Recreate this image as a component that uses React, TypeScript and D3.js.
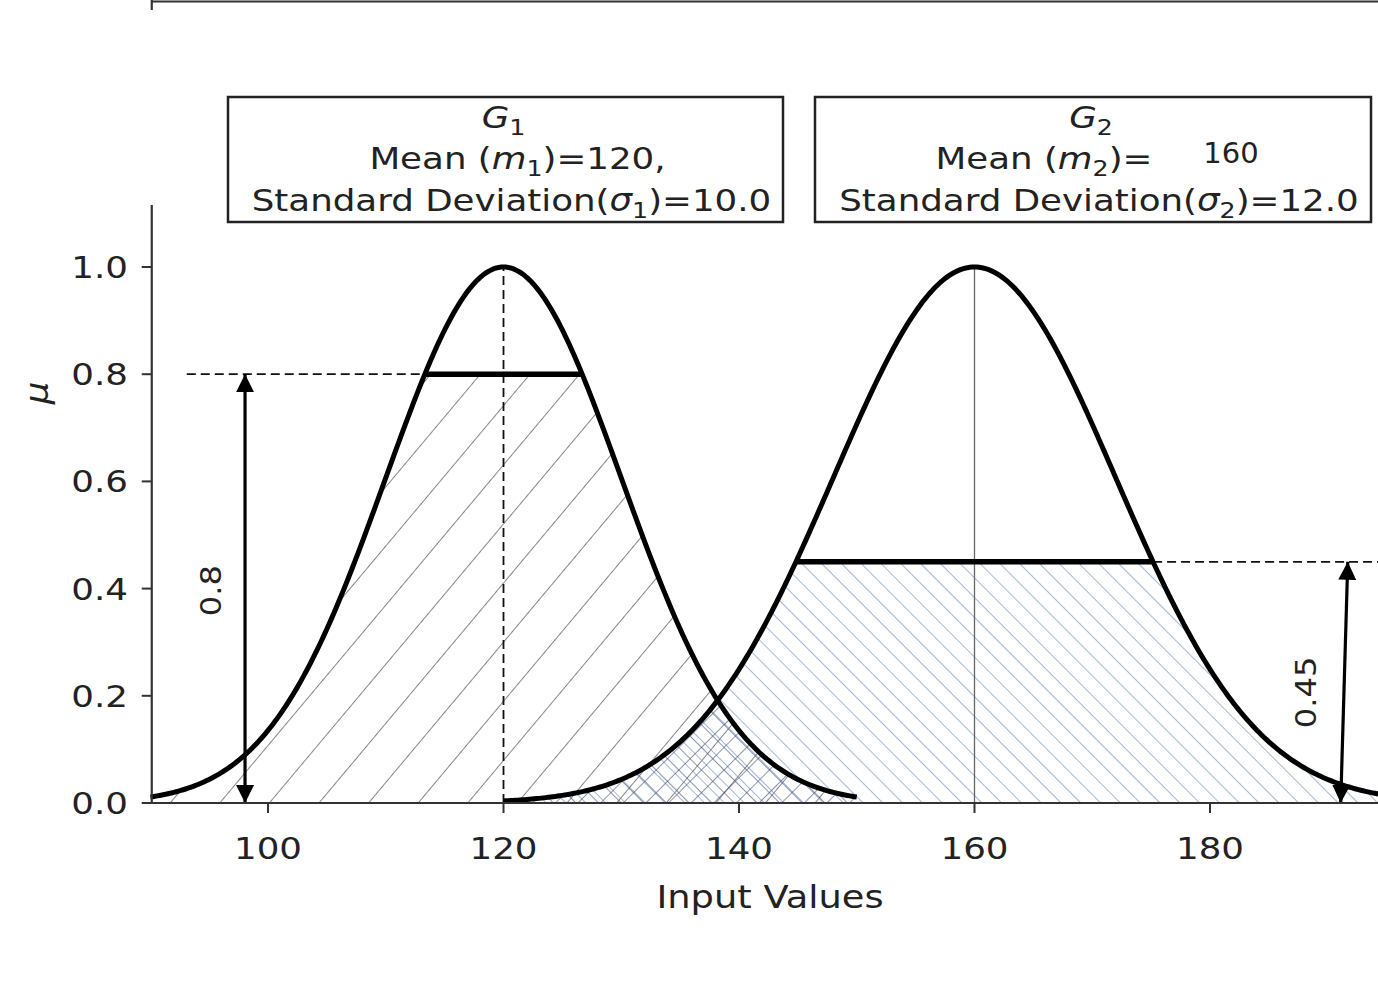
import React from "react";
import * as d3 from "d3";

const W = 1378;
const H = 984;

// membership functions, as labelled in the boxes
const names = ["G", "G"];
const subs = ["1", "2"];
const means = [120, 160];
const sigmas = [10.0, 12.0];
const spans = [
  [90, 150],
  [120, 200],
];
const cuts = [0.8, 0.45];
const cutLabels = ["0.8", "0.45"];

const xTicks = [100, 120, 140, 160, 180];
const yTicks = [0, 0.2, 0.4, 0.6, 0.8, 1.0];

// annotation anchors
const arrowX = [
  [98.05, 98.05],
  [191.1, 191.7],
];
const dashLeftX = 93.1;

const FONT = "DejaVu Sans, Liberation Sans, sans-serif";
const SX = 1.15; // the source picture is a little stretched horizontally

const x = d3.scaleLinear().domain([100, 180]).range([268, 1210]);
const y = d3.scaleLinear().domain([0, 1]).range([803, 267]);

const gauss = (v: number, m: number, s: number) =>
  Math.exp(-((v - m) ** 2) / (2 * s * s));

const halfWidth = (cut: number, s: number) => s * Math.sqrt(2 * Math.log(1 / cut));

function Txt({ tx, ty, size, anchor = "middle", rotate = 0, children, style }: any) {
  return (
    <text
      transform={`translate(${tx},${ty}) rotate(${rotate}) scale(${SX},1)`}
      fontSize={size}
      fontFamily={FONT}
      textAnchor={anchor}
      fill="#222"
      style={style}
    >
      {children}
    </text>
  );
}

export default function App() {
  const x0 = x(90);
  const spineX = x0 + 1.5;

  const line = d3
    .line<[number, number]>()
    .x((d) => x(d[0]))
    .y((d) => y(d[1]));
  const area = d3
    .area<[number, number]>()
    .x((d) => x(d[0]))
    .y0(y(0))
    .y1((d) => y(d[1]));

  const samples = (lo: number, hi: number) => d3.range(lo, hi + 0.001, 0.2);

  const curves = means.map((m, i) =>
    samples(spans[i][0], spans[i][1]).map((v) => [v, gauss(v, m, sigmas[i])] as [number, number])
  );
  const cutAreas = means.map((m, i) =>
    samples(spans[i][0], spans[i][1]).map(
      (v) => [v, Math.min(cuts[i], gauss(v, m, sigmas[i]))] as [number, number]
    )
  );
  const overlap = samples(spans[1][0], spans[0][1]).map(
    (v) =>
      [v, Math.min(gauss(v, means[0], sigmas[0]), gauss(v, means[1], sigmas[1]))] as [number, number]
  );

  const cutEnds = means.map((m, i) => {
    const h = halfWidth(cuts[i], sigmas[i]);
    return [m - h, m + h];
  });

  const boxes = [
    { x0: 228, x1: 783 },
    { x0: 815, x1: 1371 },
  ];

  return (
    <svg
      width={W}
      height={H}
      viewBox={`0 0 ${W} ${H}`}
      style={{ position: "absolute", left: 0, top: 0, background: "#fff" }}
    >
      <defs>
        <pattern id="hatchG1" patternUnits="userSpaceOnUse" width={38} height={20} patternTransform="rotate(40)">
          <line x1={0} y1={0} x2={0} y2={20} stroke="#444" strokeWidth={1.3} />
        </pattern>
        <pattern id="hatchG2" patternUnits="userSpaceOnUse" width={14} height={20} patternTransform="rotate(-45)">
          <line x1={0} y1={0} x2={0} y2={20} stroke="#6a86b8" strokeWidth={1.2} />
        </pattern>
        <pattern id="hatchX" patternUnits="userSpaceOnUse" width={16} height={16} patternTransform="rotate(45)">
          <line x1={0} y1={0} x2={0} y2={16} stroke="#2e3d6b" strokeWidth={1.1} />
          <line x1={0} y1={0} x2={16} y2={0} stroke="#2e3d6b" strokeWidth={1.1} />
        </pattern>
        <marker id="head" viewBox="0 0 10 10" refX={10} refY={5} markerWidth={18} markerHeight={20} markerUnits="userSpaceOnUse" orient="auto-start-reverse">
          <path d="M0,0 L10,5 L0,10 z" fill="#000" />
        </marker>
        <clipPath id="plot">
          <rect x={x0} y={0} width={W - x0} height={y(0)} />
        </clipPath>
      </defs>

      <g clipPath="url(#plot)">
        {/* hatched areas under the cut levels */}
        <path d={area(cutAreas[0]) ?? ""} fill="url(#hatchG1)" />
        <path d={area(cutAreas[1]) ?? ""} fill="url(#hatchG2)" />
        <path d={area(overlap) ?? ""} fill="url(#hatchX)" />

        {/* reference lines */}
        <line x1={x(means[0])} x2={x(means[0])} y1={y(0)} y2={y(1)} stroke="#111" strokeWidth={1.8} strokeDasharray="9,5" />
        <line x1={x(means[1])} x2={x(means[1])} y1={y(0)} y2={y(1)} stroke="#666" strokeWidth={1.3} />
        <line x1={x(dashLeftX)} x2={x(cutEnds[0][0])} y1={y(cuts[0])} y2={y(cuts[0])} stroke="#111" strokeWidth={1.8} strokeDasharray="9,5" />
        <line x1={x(cutEnds[1][1])} x2={W} y1={y(cuts[1])} y2={y(cuts[1])} stroke="#111" strokeWidth={1.8} strokeDasharray="9,5" />

        {/* cut levels */}
        {cutEnds.map((e, i) => (
          <line key={i} x1={x(e[0])} x2={x(e[1])} y1={y(cuts[i])} y2={y(cuts[i])} stroke="#000" strokeWidth={5.5} />
        ))}

        {/* membership curves */}
        {curves.map((c, i) => (
          <path key={i} d={line(c) ?? ""} fill="none" stroke="#000" strokeWidth={5} />
        ))}

        {/* arrows */}
        {arrowX.map((ax, i) => (
          <line
            key={i}
            x1={x(ax[0])}
            y1={y(0)}
            x2={x(ax[1])}
            y2={y(cuts[i])}
            stroke="#000"
            strokeWidth={3.2}
            markerStart="url(#head)"
            markerEnd="url(#head)"
          />
        ))}
      </g>

      {/* arrow labels */}
      <Txt tx={x(arrowX[0][0]) - 24} ty={y(cuts[0] / 2) + 2} size={28} rotate={-90}>
        {cutLabels[0]}
      </Txt>
      <Txt tx={x(arrowX[1][0]) - 25} ty={y(cuts[1] / 2) + 10} size={28} rotate={-90}>
        {cutLabels[1]}
      </Txt>

      {/* spines */}
      <line x1={spineX} x2={W} y1={1.5} y2={1.5} stroke="#333" strokeWidth={2.2} />
      <line x1={spineX} x2={spineX} y1={0} y2={10} stroke="#333" strokeWidth={2.2} />
      <line x1={spineX} x2={spineX} y1={205} y2={y(0) + 1} stroke="#333" strokeWidth={2.2} />
      <line x1={spineX} x2={W} y1={y(0)} y2={y(0)} stroke="#333" strokeWidth={2.2} />

      {/* x ticks */}
      {xTicks.map((t) => (
        <g key={t}>
          <line x1={x(t)} x2={x(t)} y1={y(0)} y2={y(0) + 10} stroke="#333" strokeWidth={2} />
          <Txt tx={x(t)} ty={859} size={31}>
            {t}
          </Txt>
        </g>
      ))}
      <Txt tx={770} ty={908} size={32}>
        Input Values
      </Txt>

      {/* y ticks */}
      {yTicks.map((t) => (
        <g key={t}>
          <line x1={spineX - 10} x2={spineX} y1={y(t)} y2={y(t)} stroke="#333" strokeWidth={2} />
          <Txt tx={128} ty={y(t) + 11} size={31} anchor="end">
            {t.toFixed(1)}
          </Txt>
        </g>
      ))}
      <Txt tx={48} ty={393} size={31} rotate={-90} style={{ fontStyle: "italic" }}>
        μ
      </Txt>

      {/* info boxes */}
      {boxes.map((b, i) => {
        const cx = (b.x0 + b.x1) / 2 + 6;
        return (
          <g key={i}>
            <rect x={b.x0} y={97} width={b.x1 - b.x0} height={125} fill="#fff" stroke="#222" strokeWidth={2.5} />
            <Txt tx={cx - 8} ty={128} size={31}>
              <tspan fontStyle="italic">{names[i]}</tspan>
              <tspan fontSize={22} dy={7}>
                {subs[i]}
              </tspan>
            </Txt>
            {i === 0 ? (
              <Txt tx={cx + 6} ty={169} size={31}>
                Mean (<tspan fontStyle="italic">m</tspan>
                <tspan fontSize={22} dy={7}>{subs[i]}</tspan>
                <tspan dy={-7}>)={means[i]},</tspan>
              </Txt>
            ) : (
              <>
                <Txt tx={1044} ty={169} size={31}>
                  Mean (<tspan fontStyle="italic">m</tspan>
                  <tspan fontSize={22} dy={7}>{subs[i]}</tspan>
                  <tspan dy={-7}>)=</tspan>
                </Txt>
                <text x={1231} y={163} fontSize={29} fontFamily={FONT} textAnchor="middle" fill="#222">
                  {means[i]}
                </text>
              </>
            )}
            <Txt tx={cx} ty={211} size={31}>
              Standard Deviation(<tspan fontStyle="italic">σ</tspan>
              <tspan fontSize={22} dy={7}>{subs[i]}</tspan>
              <tspan dy={-7}>)={sigmas[i].toFixed(1)}</tspan>
            </Txt>
          </g>
        );
      })}
    </svg>
  );
}
